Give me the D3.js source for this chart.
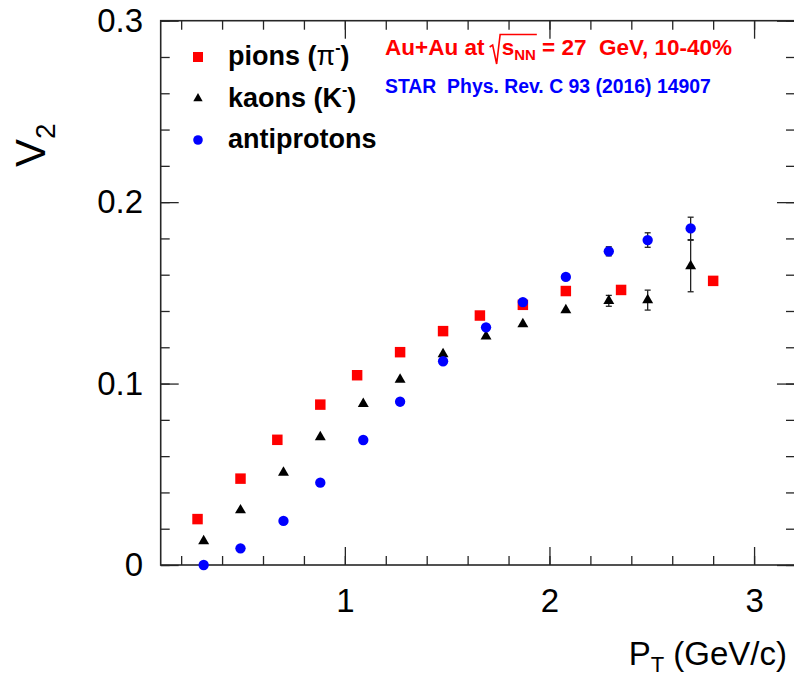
<!DOCTYPE html>
<html>
<head>
<meta charset="utf-8">
<script src="https://cdn.jsdelivr.net/npm/d3@7"></script>
<style>
  html, body { margin: 0; padding: 0; background: #fff; }
  svg { display: block; }
  text { font-family: "Liberation Sans", Arial, Helvetica, sans-serif; }
</style>
</head>
<body>
<svg id="chart" width="794" height="678"></svg>
<script>
// ---- data ----
const pionPt  = [0.28, 0.49, 0.67, 0.88, 1.06, 1.27, 1.48, 1.66, 1.87, 2.08, 2.35, 2.80];
const pionV2  = [0.0253, 0.0476, 0.0690, 0.0884, 0.1046, 0.1173, 0.1289, 0.1375, 0.1434, 0.1510, 0.1516, 0.1566];
const pionErr = [0, 0, 0, 0, 0, 0, 0, 0, 0, 0, 0, 0];

const kaonPt  = [0.31, 0.49, 0.70, 0.88, 1.09, 1.27, 1.48, 1.69, 1.87, 2.08, 2.29, 2.48, 2.69];
const kaonV2  = [0.0132, 0.0302, 0.0509, 0.0705, 0.0888, 0.1022, 0.1163, 0.1260, 0.1328, 0.1405, 0.1456, 0.1460, 0.1648];
const kaonErr = [0, 0, 0, 0, 0, 0, 0, 0, 0, 0, 0.0030, 0.0055, 0.0142];

const protonPt  = [0.31, 0.49, 0.70, 0.88, 1.09, 1.27, 1.48, 1.69, 1.87, 2.08, 2.29, 2.48, 2.69];
const protonV2  = [0.0000, 0.0092, 0.0243, 0.0454, 0.0689, 0.0900, 0.1123, 0.1310, 0.1449, 0.1588, 0.1729, 0.1791, 0.1855];
const protonErr = [0, 0, 0, 0, 0, 0, 0, 0, 0, 0, 0.0025, 0.0040, 0.0062];

const xMajorTicks = [1, 2, 3];
const yMajorTicks = [0, 0.1, 0.2, 0.3];
const legendLabels = ["pions", "kaons", "antiprotons"];

// ---- layout ----
const svg = d3.select("#chart");
const L = 160.7, R = 795, T = 20.7, B = 565;
const x = d3.scaleLinear().domain([0.1, 3.2]).range([L, R]);
const y = d3.scaleLinear().domain([0, 0.3]).range([B, T]);
const axisColor = "#262626";

svg.append("rect").attr("width", 794).attr("height", 678).attr("fill", "#fff");

const xMinor = d3.range(0.2, 3.21, 0.2).map(v => +v.toFixed(2));
const yMinor = d3.range(0, 0.301, 0.02).map(v => +v.toFixed(3));

function styleAxis(g) {
  g.selectAll(".domain").remove();
  g.selectAll("line").attr("stroke", axisColor).attr("stroke-width", 1.3);
}

// bottom
svg.append("g").attr("transform", `translate(0,${B})`)
  .call(d3.axisBottom(x).tickValues(xMinor).tickSize(-9).tickFormat(""))
  .call(styleAxis);
const xb = svg.append("g").attr("transform", `translate(0,${B})`)
  .call(d3.axisBottom(x).tickValues(xMajorTicks).tickSize(-18).tickPadding(23.5).tickFormat(d3.format("d")))
  .call(styleAxis);
xb.selectAll("text").attr("font-size", 33).attr("fill", "#000");
// top
svg.append("g").attr("transform", `translate(0,${T})`)
  .call(d3.axisTop(x).tickValues(xMinor).tickSize(-9).tickFormat(""))
  .call(styleAxis);
svg.append("g").attr("transform", `translate(0,${T})`)
  .call(d3.axisTop(x).tickValues(xMajorTicks).tickSize(-18).tickFormat(""))
  .call(styleAxis);
// left
svg.append("g").attr("transform", `translate(${L},0)`)
  .call(d3.axisLeft(y).tickValues(yMinor).tickSize(-9).tickFormat(""))
  .call(styleAxis);
const yl = svg.append("g").attr("transform", `translate(${L},0)`)
  .call(d3.axisLeft(y).tickValues(yMajorTicks).tickSize(-18).tickPadding(17.7)
    .tickFormat(d => d === 0 ? "0" : d3.format(".1f")(d)))
  .call(styleAxis);
yl.selectAll("text").attr("font-size", 33).attr("fill", "#000");
// right
svg.append("g").attr("transform", `translate(${R},0)`)
  .call(d3.axisRight(y).tickValues(yMinor).tickSize(-9).tickFormat(""))
  .call(styleAxis);
svg.append("g").attr("transform", `translate(${R},0)`)
  .call(d3.axisRight(y).tickValues(yMajorTicks).tickSize(-18).tickFormat(""))
  .call(styleAxis);

// frame
svg.append("rect").attr("x", L).attr("y", T).attr("width", R - L).attr("height", B - T)
  .attr("fill", "none").attr("stroke", axisColor).attr("stroke-width", 1.6);

// ---- series ----
const series = [
  { pt: pionPt, v2: pionV2, err: pionErr, color: "#ff0000", sym: d3.symbolSquare, size: 110 },
  { pt: kaonPt, v2: kaonV2, err: kaonErr, color: "#000000", sym: d3.symbolTriangle, size: 52 },
  { pt: protonPt, v2: protonV2, err: protonErr, color: "#0000ff", sym: d3.symbolCircle, size: 84 }
];

const plot = svg.append("g");
series.forEach(s => {
  const pts = s.pt.map((p, i) => ({ p, v: s.v2[i], e: s.err[i] }));
  const eb = plot.append("g").attr("stroke", "#222").attr("stroke-width", 1.3);
  pts.filter(d => d.e > 0).forEach(d => {
    const cx = x(d.p), y1 = y(d.v - d.e), y2 = y(d.v + d.e);
    eb.append("line").attr("x1", cx).attr("x2", cx).attr("y1", y1).attr("y2", y2);
    eb.append("line").attr("x1", cx - 3).attr("x2", cx + 3).attr("y1", y1).attr("y2", y1);
    eb.append("line").attr("x1", cx - 3).attr("x2", cx + 3).attr("y1", y2).attr("y2", y2);
  });
  plot.append("g").selectAll("path").data(pts).join("path")
    .attr("d", d3.symbol().type(s.sym).size(s.size))
    .attr("transform", d => `translate(${x(d.p)},${y(d.v)})`)
    .attr("fill", s.color);
});

// ---- legend ----
const leg = svg.append("g");
const legY = [57, 98.5, 140];
const legSizes = [100, 38, 72];
series.forEach((s, i) => {
  leg.append("path").attr("d", d3.symbol().type(s.sym).size(legSizes[i])())
    .attr("transform", `translate(198,${legY[i]})`).attr("fill", s.color);
});
const legText = (i) => leg.append("text").attr("x", 228).attr("y", legY[i] + 8)
  .attr("font-size", 27).attr("font-weight", "bold").attr("fill", "#000");
const t0 = legText(0);
t0.append("tspan").text(legendLabels[0] + " (");
t0.append("tspan").text("π").attr("font-weight", "normal");
t0.append("tspan").text("-").attr("font-size", 16).attr("dy", -12);
t0.append("tspan").text(")").attr("dy", 12);
const t1 = legText(1);
t1.append("tspan").text(legendLabels[1] + " (K");
t1.append("tspan").text("-").attr("font-size", 16).attr("dy", -12);
t1.append("tspan").text(")").attr("dy", 12);
legText(2).text(legendLabels[2]);

// ---- annotations ----
const ann = svg.append("text").attr("x", 385).attr("y", 55).attr("xml:space", "preserve")
  .attr("font-size", 22.5).attr("font-weight", "bold").attr("fill", "#ff0000");
ann.append("tspan").text("Au+Au at ");
ann.append("tspan").text("s").attr("dx", 11);
ann.append("tspan").text("NN").attr("font-size", 15).attr("dy", 5);
ann.append("tspan").text(" = 27  GeV, 10-40%").attr("dy", -5);
// radical sign spanning s_NN
{
  const n = ann.node();
  const sx = n.getStartPositionOfChar(9).x;
  const ex = n.getEndPositionOfChar(11).x;
  svg.append("path")
    .attr("d", `M${sx - 12},47 L${sx - 9},45 L${sx - 5},64 L${sx - 1.5},34.5 L${ex + 1},34.5`)
    .attr("fill", "none").attr("stroke", "#ff0000").attr("stroke-width", 1.6)
    .attr("stroke-linejoin", "miter");
}

svg.append("text").attr("x", 385).attr("y", 92.5).attr("xml:space", "preserve")
  .attr("font-size", 19.4).attr("font-weight", "bold").attr("fill", "#0000ff")
  .text("STAR  Phys. Rev. C 93 (2016) 14907");

// axis titles
const xt = svg.append("text").attr("x", 787).attr("y", 665).attr("text-anchor", "end")
  .attr("font-size", 33).attr("fill", "#000");
xt.append("tspan").text("P");
xt.append("tspan").text("T").attr("font-size", 22).attr("dy", 7);
xt.append("tspan").text(" (GeV/c)").attr("dy", -7);

const yt = svg.append("text").attr("transform", "translate(45,167) rotate(-90)")
  .attr("font-size", 42).attr("fill", "#000");
yt.append("tspan").text("V");
yt.append("tspan").text("2").attr("font-size", 28).attr("dy", 10);
</script>
</body>
</html>
